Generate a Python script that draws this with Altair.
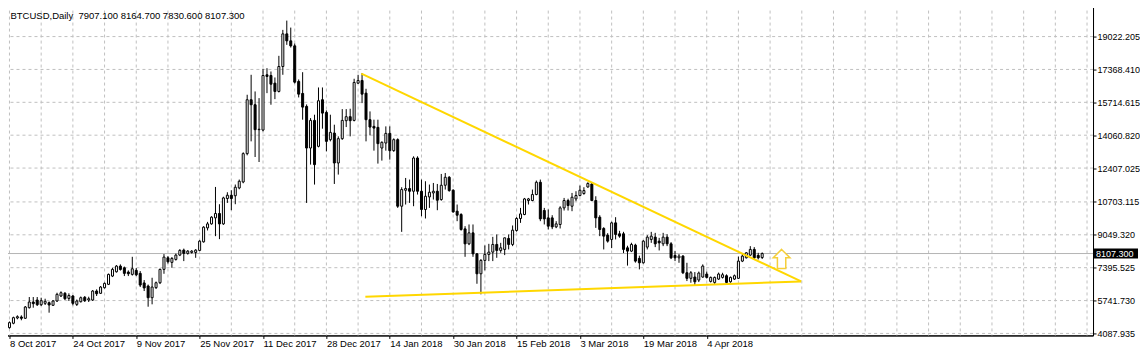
import altair as alt
import pandas as pd

# ---- OHLC values (one entry per daily bar) ----
opens = [4379, 4600, 4866, 4916, 4850, 5383, 5669, 5769, 5533, 5604,
         5634, 5503, 5719, 5971, 6106, 5850, 5971, 5548, 5684, 5905,
         5769, 5769, 6221, 6106, 6387, 6557, 6974, 7189, 7476, 7390,
         7175, 7059, 7260, 7109, 6628, 6472, 5885, 6392, 6638, 7310,
         7893, 7662, 7812, 8029, 8279, 8114, 8163, 8163, 8264, 8696,
         9398, 9599, 9901, 10121, 9599, 10874, 11040, 11015, 11408, 11708,
         13133, 15844, 15593, 14338, 14318, 17099, 17064, 16678, 16261, 17516,
         19157, 18806, 18555, 16763, 16161, 15508, 13415, 14805, 13500, 15844,
         15207, 13836, 14168, 12662, 13886, 14790, 14991, 14805, 16678, 16813,
         16176, 14840, 14504, 14454, 13415, 13666, 14152, 13284, 13836, 10488,
         11291, 11376, 11241, 12913, 11241, 10323, 10955, 11156, 11241, 10824,
         11542, 11944, 11291, 10237, 10071, 9348, 8595, 9148, 8093, 7089,
         7762, 8063, 8179, 8565, 8264, 8314, 8867, 8565, 9268, 9870,
         10071, 10774, 10774, 11075, 11693, 10272, 9901, 9901, 9449, 9570,
         10403, 10774, 10488, 10855, 11025, 11126, 11457, 11607, 10774, 9936,
         9368, 9032, 8816, 9650, 9100, 9100, 8395, 8229, 8530, 7862,
         7642, 8430, 8816, 8932, 8731, 8596, 8932, 8596, 8013, 7893,
         7978, 7140, 6860, 6924, 6773, 6924, 7074, 6705, 6655, 6822,
         6906, 6990, 6688, 6822, 6860, 7727, 7893, 8028, 8314, 8013,
         7907.1]
highs = [4690, 4931, 4999, 4999, 5468, 5920, 5920, 5920, 5885, 5834,
         5694, 5769, 6136, 6206, 6171, 6106, 6021, 5794, 5945, 5971,
         5935, 6271, 6306, 6472, 6648, 7099, 7390, 7526, 7561, 7451,
         7260, 7943, 7376, 7225, 6773, 6547, 6889, 6698, 7350, 8079,
         7978, 7928, 8104, 8329, 8355, 8279, 8279, 8329, 8781, 9484,
         9700, 9986, 11457, 10588, 10965, 11191, 11291, 11578, 11828, 13199,
         16095, 17099, 16261, 15925, 17401, 17431, 17265, 16964, 18053, 19358,
         19825, 19474, 18671, 16864, 17230, 15608, 14921, 15091, 16462, 16462,
         15307, 15091, 14589, 14002, 15372, 15372, 15393, 16899, 17099, 17180,
         16396, 15257, 14840, 14840, 13751, 14504, 14504, 13902, 13902, 11442,
         11909, 11828, 12998, 12998, 11828, 11743, 11578, 11658, 11607, 12111,
         12160, 12004, 11341, 10573, 10137, 9484, 9570, 9570, 8129, 7827,
         8515, 8595, 8947, 9067, 8646, 8907, 9067, 9519, 9936, 10403,
         10905, 10905, 11326, 11778, 11828, 10403, 10323, 10036, 9735, 10488,
         10905, 10865, 11156, 11241, 11527, 11442, 11693, 11693, 10989, 10036,
         9434, 9132, 9710, 9936, 9250, 9200, 8500, 8650, 8600, 8000,
         8780, 9032, 9198, 9148, 8897, 9148, 9082, 8681, 8229, 8079,
         8028, 7642, 7225, 7175, 7200, 7561, 7200, 6950, 6950, 7150,
         7140, 7060, 6950, 7050, 7955, 8079, 8180, 8480, 8430, 8144,
         8164.7]
lows = [4328, 4550, 4800, 4750, 4816, 5342, 5383, 5468, 5468, 5518,
        5132, 5468, 5669, 5920, 5769, 5719, 5503, 5468, 5644, 5669,
        5669, 5719, 5971, 6071, 6347, 6522, 6924, 7150, 7250, 6974,
        6974, 6999, 6974, 6422, 6221, 5432, 5553, 6322, 6572, 7089,
        7602, 7391, 7752, 7978, 7727, 8053, 8104, 7893, 8229, 8656,
        9268, 9559, 8982, 8832, 9549, 10654, 10287, 10588, 11341, 11643,
        13048, 13751, 12963, 12712, 14253, 16176, 15593, 15875, 16211, 17099,
        18605, 18470, 16663, 15960, 14840, 10654, 12581, 11577, 13450, 14388,
        13249, 13751, 11607, 12079, 13826, 14469, 14002, 14755, 16638, 15674,
        13751, 14052, 13284, 12632, 12782, 13284, 12832, 13224, 10403, 9198,
        10573, 10654, 10488, 11075, 9986, 9871, 10403, 10824, 10287, 10764,
        11326, 11216, 10162, 9735, 9258, 7943, 8530, 7943, 6587, 6055,
        7260, 7727, 7727, 7893, 8144, 8028, 8314, 8480, 9208, 9650,
        10036, 10573, 10739, 11040, 9735, 9570, 9318, 9334, 9384, 9368,
        10272, 10272, 10237, 10739, 10989, 11066, 11417, 10739, 9398, 8982,
        8314, 8656, 8380, 8816, 8900, 8130, 7500, 8180, 7650, 7310,
        7600, 8314, 8646, 8430, 8264, 8480, 8480, 7827, 7727, 7642,
        7074, 6723, 6638, 6507, 6673, 6889, 6850, 6650, 6580, 6780,
        6850, 6600, 6640, 6780, 6840, 7677, 7860, 7990, 7812, 7812,
        7830.6]
closes = [4630, 4881, 4931, 4850, 5418, 5669, 5585, 5533, 5734, 5704,
          5518, 5719, 6055, 6136, 5834, 5995, 5604, 5719, 5885, 5734,
          5834, 6221, 6085, 6422, 6607, 7059, 7310, 7476, 7306, 7110,
          7090, 7340, 7039, 6522, 6376, 5885, 6422, 6638, 7310, 7928,
          7692, 7863, 8029, 8264, 8114, 8229, 8229, 8279, 8731, 9434,
          9599, 9936, 10121, 9599, 10905, 11040, 10874, 11442, 11743, 13133,
          15844, 15593, 14338, 14360, 17064, 17014, 16627, 16261, 17516, 19157,
          18806, 18555, 16728, 16125, 15473, 13415, 14805, 12581, 15794, 15172,
          13751, 14203, 12662, 13886, 14805, 14991, 14790, 16713, 16813, 16125,
          14840, 14469, 14419, 13636, 13701, 14152, 13284, 13836, 10488, 11326,
          11376, 11241, 12913, 11241, 10323, 10989, 11191, 11241, 10789, 11542,
          11944, 11276, 10202, 10036, 9318, 8595, 9148, 8093, 7089, 7762,
          8063, 8179, 8565, 8264, 8395, 8897, 8565, 9283, 9870, 10102,
          10855, 10855, 11075, 11693, 9850, 9850, 9484, 9449, 9599, 10403,
          10774, 10523, 10940, 11025, 11291, 11276, 11628, 10774, 9901, 9318,
          8982, 8731, 9650, 9067, 8982, 8314, 8229, 8565, 7727, 7642,
          8731, 8932, 8982, 8596, 8646, 8932, 8596, 7893, 7893, 7978,
          7140, 6860, 7140, 6688, 7125, 7476, 6906, 6906, 6906, 7074,
          7040, 6655, 6906, 6990, 7727, 7978, 8144, 8314, 7893, 7893,
          8107.3]

# ---- axis / annotation values ----
date_labels = ["8 Oct 2017", "24 Oct 2017", "9 Nov 2017", "25 Nov 2017",
               "11 Dec 2017", "28 Dec 2017", "14 Jan 2018", "30 Jan 2018",
               "15 Feb 2018", "3 Mar 2018", "19 Mar 2018", "4 Apr 2018"]
date_bars = [0, 16, 32, 48, 64, 80, 96, 112, 128, 144, 160, 176]
price_levels = [19022.205, 17368.410, 15714.615, 14060.820, 12407.025,
                10703.115, 9049.320, 7395.525, 5741.730, 4087.935]
grid_bars = list(range(0, 273, 8))
last_price = 8107.3
header_text = "BTCUSD,Daily\u00a0\u00a07907.100 8164.700 7830.600 8107.300"

trend_id = ["upper", "upper", "lower", "lower"]
trend_bar = [88.83, 199.83, 89.83, 199.83]
trend_price = [17161.7, 6702.9, 5933.5, 6702.9]
arrow_bar = [194.9]
arrow_price = [7837.0]

# ---- layout ----
W, H = 1091, 331
X_DOMAIN = [-0.5, -0.5 + W / 4]
Y_DOMAIN = [20631.3 - H * 50.283, 20631.3]
FONT = "Liberation Sans"
GRID = "#c0c0c0"
GOLD = "#FFD700"

xs = alt.Scale(domain=X_DOMAIN, nice=False, zero=False)
ys = alt.Scale(domain=Y_DOMAIN, nice=False, zero=False)

candles = pd.DataFrame({
    "bar": list(range(len(opens))),
    "open": opens, "high": highs, "low": lows, "close": closes,
})
candles["dir"] = ["up" if c >= o else "down" for o, c in zip(opens, closes)]

label_js = "[" + ",".join("'%s'" % s for s in date_labels) + "]"

x_axis = alt.Axis(values=date_bars,
                  labelExpr=label_js + "[round(datum.value/16)]",
                  labelAlign="left", labelFlush=False, labelOverlap=False,
                  grid=False, tickSize=3, labelPadding=0, title=None,
                  labelFont=FONT, labelFontSize=9.5, labelColor="black",
                  tickColor="black", domainColor="black")
y_axis = alt.Axis(orient="right", values=price_levels, format=".3f",
                  grid=False, title=None,
                  tickSize=3, labelPadding=1, labelFlush=False,
                  labelOverlap=False, labelFont=FONT, labelFontSize=9,
                  labelColor="black", tickColor="black",
                  domainColor="black")


def X(field):
    return alt.X(field, scale=xs, axis=x_axis, title=None)


def Y(field):
    return alt.Y(field, scale=ys, axis=y_axis, title=None)


vgrid = alt.Chart(pd.DataFrame({"bar": grid_bars})).mark_rule(
    color=GRID, strokeDash=[3, 3], strokeWidth=1
).encode(x=X("bar:Q"))

hgrid = alt.Chart(pd.DataFrame({"p": price_levels})).mark_rule(
    color=GRID, strokeDash=[3, 3], strokeWidth=1
).encode(y=Y("p:Q"))

price_line = alt.Chart(pd.DataFrame({"p": [last_price]})).mark_rule(
    color="#b4b4b4", strokeWidth=1
).encode(y=Y("p:Q"))

wicks = alt.Chart(candles).mark_rule(color="black", strokeWidth=1).encode(
    x=X("bar:Q"), y=Y("low:Q"), y2="high:Q",
)

bodies = alt.Chart(candles).mark_bar(width=2, stroke="black", strokeWidth=1).encode(
    x=X("bar:Q"), y=Y("open:Q"), y2="close:Q",
    fill=alt.Fill("dir:N", scale=alt.Scale(domain=["up", "down"], range=["white", "black"]),
                  legend=None),
)

trend = alt.Chart(pd.DataFrame({"id": trend_id, "bar": trend_bar, "p": trend_price})).mark_line(
    color=GOLD, strokeWidth=2
).encode(x=X("bar:Q"), y=Y("p:Q"), detail="id:N")

arrow_path = "M0,-1 L0.88,-0.12 L0.44,-0.12 L0.44,1 L-0.44,1 L-0.44,-0.12 L-0.88,-0.12 Z"
arrow = alt.Chart(pd.DataFrame({"bar": arrow_bar, "p": arrow_price})).mark_point(
    shape=arrow_path, size=361, filled=True, fill="white", stroke="#F5CF3A",
    strokeWidth=1.5, opacity=1
).encode(x=X("bar:Q"), y=Y("p:Q"))

header = alt.Chart(pd.DataFrame({"t": [header_text]})).mark_text(
    align="left", baseline="top", font=FONT, fontSize=9.5, color="black"
).encode(x=alt.value(8), y=alt.value(6), text="t:N")

tag_box = alt.Chart(pd.DataFrame({"p": [last_price]})).mark_tick(
    orient="horizontal", size=44, thickness=10, color="black", opacity=1
).encode(x=alt.value(W + 23), y=Y("p:Q"))

tag_text = alt.Chart(pd.DataFrame({"p": [last_price], "t": ["%.3f" % last_price]})).mark_text(
    align="left", baseline="middle", font=FONT, fontSize=9, color="white"
).encode(x=alt.value(W + 3), y=Y("p:Q"), text="t:N")

chart = alt.layer(
    vgrid, hgrid, price_line, wicks, bodies, trend, arrow, header, tag_box, tag_text
).properties(
    width=W, height=H,
    padding={"left": -6.5, "top": -4.5, "right": 0, "bottom": 0},
    background="white",
).configure_view(stroke="black", strokeWidth=1)

chart.save("out.html", embed_options={"renderer": "svg", "actions": False})
